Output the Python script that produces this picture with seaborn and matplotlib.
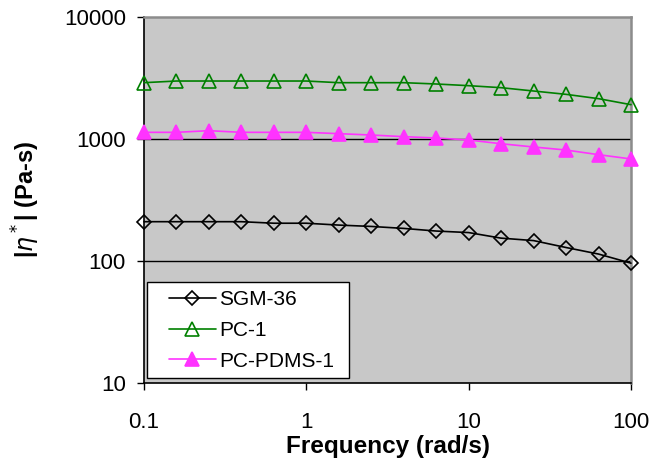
import matplotlib
matplotlib.use("Agg")
import matplotlib.pyplot as plt
import seaborn as sns
import pandas as pd
from matplotlib.patches import Rectangle
from matplotlib.ticker import FixedLocator, FixedFormatter, NullLocator

freq = [0.1, 0.158, 0.251, 0.398, 0.631, 1.0, 1.58, 2.51, 3.98, 6.31,
        10.0, 15.8, 25.1, 39.8, 63.1, 100.0]
sgm36 = [210, 210, 210, 210, 204, 204, 197, 192, 185, 176, 171, 154, 147, 129, 114, 96]
pc1 = [2895, 2987, 2987, 2987, 2987, 2987, 2895, 2895, 2895, 2824, 2736, 2635, 2474, 2323, 2141, 1911]
pcpdms1 = [1134, 1134, 1170, 1134, 1134, 1134, 1106, 1078, 1045, 1019, 981, 915, 860, 812, 744, 686]

series_names = ["SGM-36", "PC-1", "PC-PDMS-1"]
x_ticks = [0.1, 1, 10, 100]
x_labels = ["0.1", "1", "10", "100"]
y_ticks = [10, 100, 1000, 10000]
y_labels = ["10", "100", "1000", "10000"]

sns.set_theme(style="white")
plt.rcParams['font.family'] = ['Liberation Sans', 'DejaVu Sans']
for k in ["text.color", "axes.labelcolor", "xtick.color", "ytick.color"]:
    plt.rcParams[k] = "black"

fig = plt.figure(figsize=(6.51, 4.61), dpi=100)
ax = fig.add_axes([144/651, 1-383/461, (631-144)/651, (383-17)/461])
ax.set_facecolor("#c8c8c8")

styles = [
    dict(color="black", marker="D", markerfacecolor="none", markeredgecolor="black", markersize=7.5),
    dict(color="#008000", marker="^", markerfacecolor="none", markeredgecolor="#008000", markersize=9.5),
    dict(color="#ff33ff", marker="^", markerfacecolor="#ff33ff", markeredgecolor="#ff33ff", markersize=9.5),
]
for name, vals, st in zip(series_names, [sgm36, pc1, pcpdms1], styles):
    df = pd.DataFrame({"freq": freq, "eta": vals})
    sns.lineplot(data=df, x="freq", y="eta", ax=ax, label=name, linewidth=1.2,
                 markeredgewidth=1.2, clip_on=False, zorder=3, **st)

ax.set_xscale("log")
ax.set_yscale("log")
ax.set_xlim(0.1, 100)
ax.set_ylim(10, 10000)

ax.xaxis.set_major_locator(FixedLocator(x_ticks))
ax.xaxis.set_major_formatter(FixedFormatter(x_labels))
ax.xaxis.set_minor_locator(NullLocator())
ax.yaxis.set_major_locator(FixedLocator(y_ticks))
ax.yaxis.set_major_formatter(FixedFormatter(y_labels))
ax.yaxis.set_minor_locator(NullLocator())

for yv in [100, 1000]:
    ax.axhline(yv, color="black", linewidth=1.0, zorder=1)

ax.tick_params(axis="both", which="major", direction="out", length=5, width=1,
               color="black", labelsize=16, left=True, bottom=True)
ax.tick_params(axis="y", pad=8)
ax.tick_params(axis="x", pad=16)

for s in ["left", "bottom"]:
    ax.spines[s].set_color("black")
    ax.spines[s].set_linewidth(1.2)
for s in ["top", "right"]:
    ax.spines[s].set_color("#8c8c8c")
    ax.spines[s].set_linewidth(1.8)

ax.set_xlabel("Frequency (rad/s)", fontsize=17.5, fontweight="bold", labelpad=1)
ax.set_ylabel(r"|$\eta$$^*$| (Pa-s)", fontsize=17, fontweight="bold", labelpad=16)

# legend frame box
frame = Rectangle((147/651, 1-378/461), (349-147)/651, (378-282)/461,
                  transform=fig.transFigure, facecolor="white", edgecolor="black",
                  linewidth=1.0, zorder=4, clip_on=False)
ax.add_patch(frame)

leg = ax.legend(loc="center left", bbox_to_anchor=(169/651, 1-330.5/461),
                bbox_transform=fig.transFigure, fontsize=15, frameon=False,
                borderaxespad=0, borderpad=0, handlelength=2.25, labelspacing=0.56,
                handletextpad=0.15)
leg.set_zorder(5)

fig.savefig("out.png", dpi=100)
